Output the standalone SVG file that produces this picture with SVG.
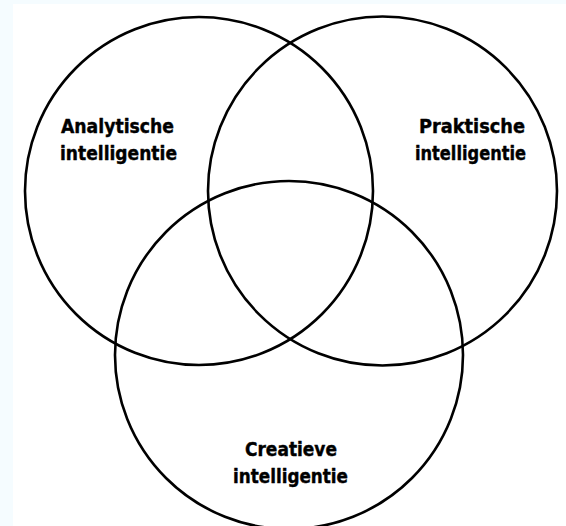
<svg xmlns="http://www.w3.org/2000/svg" width="566" height="526" viewBox="0 0 566 526">
<style>
.c{fill:none;stroke:#000;stroke-width:2.6}
.t{font-family:"DejaVu Sans Condensed","DejaVu Sans","Liberation Sans",sans-serif;font-weight:bold;font-size:20px;fill:#000;stroke:#000;stroke-width:0.4;stroke-linejoin:round}
</style>
<rect x="0" y="0" width="566" height="526" fill="#f5fcff"/>
<rect x="13" y="4" width="553" height="522" fill="#fff"/>
<g id="connectors"/>
<g id="analytische">
<circle class="c" cx="199" cy="191" r="174"/>
<text class="t" x="61" y="133" textLength="113" lengthAdjust="spacingAndGlyphs">Analytische</text>
<text class="t" x="60" y="160" textLength="117" lengthAdjust="spacingAndGlyphs">intelligentie</text>
</g>
<g id="praktische">
<circle class="c" cx="382.5" cy="191" r="174.5"/>
<text class="t" x="419" y="133" textLength="106" lengthAdjust="spacingAndGlyphs">Praktische</text>
<text class="t" x="415" y="160" textLength="111" lengthAdjust="spacingAndGlyphs">intelligentie</text>
</g>
<g id="creatieve">
<circle class="c" cx="289" cy="355" r="174"/>
<text class="t" x="245" y="456" textLength="92" lengthAdjust="spacingAndGlyphs">Creatieve</text>
<text class="t" x="233" y="483" textLength="115" lengthAdjust="spacingAndGlyphs">intelligentie</text>
</g>
</svg>
